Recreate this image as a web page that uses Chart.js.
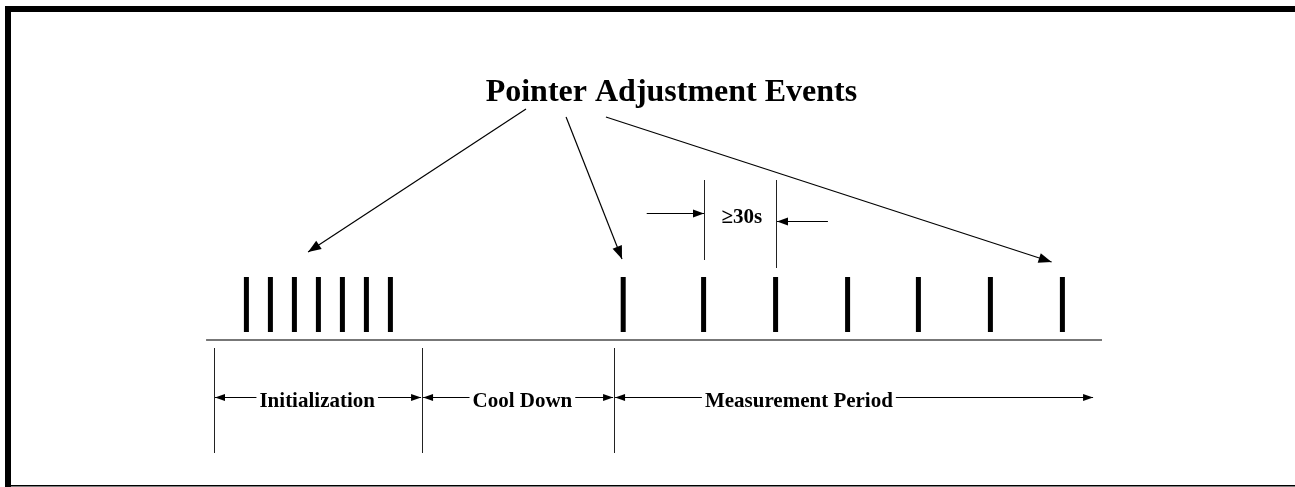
<!DOCTYPE html>
<html>
<head>
<meta charset="utf-8">
<script src="https://cdn.jsdelivr.net/npm/chart.js@4.4.0/dist/chart.umd.min.js"></script>
<style>
  html, body { margin: 0; padding: 0; background: #fff; }
  #wrap { width: 1295px; height: 487px; position: relative; }
</style>
</head>
<body>
<div id="wrap"><canvas id="myChart"></canvas></div>
<script>
// timeline values, seconds from start of initialization
const initEvents = [13.5, 23.5, 33.5, 43.5, 53.5, 63.5, 73.5];
const measureEvents = [170.5, 204, 234, 264, 293.5, 323.5, 353.5];
const phaseBounds = [0, 86.7, 166.7, 366.7];
const phaseLabels = ['Initialization', 'Cool Down', 'Measurement Period'];
const titleText = 'Pointer Adjustment Events';
const gapText = '≥30s';

// layout (chart units: x = seconds, y = height above the baseline)
const BAR_LO = 8, BAR_HI = 63;
const labelAt = [43, 128.5, 243.7];
const FONT = '"Liberation Serif", "Times New Roman", serif';

// each event is one short vertical segment, gaps split them
const segs = [];
initEvents.concat(measureEvents).forEach(function (t) {
    segs.push({x: t, y: BAR_LO}, {x: t, y: BAR_HI}, {x: t, y: null});
});

function line(ctx, x1, y1, x2, y2, w, col) {
    ctx.beginPath();
    ctx.lineWidth = w;
    ctx.strokeStyle = col;
    ctx.moveTo(x1, y1);
    ctx.lineTo(x2, y2);
    ctx.stroke();
}

function head(ctx, tx, ty, fx, fy, len, half) {
    var a = Math.atan2(ty - fy, tx - fx);
    var bx = tx - len * Math.cos(a), by = ty - len * Math.sin(a);
    ctx.beginPath();
    ctx.fillStyle = '#000';
    ctx.moveTo(tx, ty);
    ctx.lineTo(bx + half * Math.sin(a), by - half * Math.cos(a));
    ctx.lineTo(bx - half * Math.sin(a), by + half * Math.cos(a));
    ctx.closePath();
    ctx.fill();
}

function arrow(ctx, x1, y1, x2, y2, w, len, half) {
    line(ctx, x1, y1, x2, y2, w, '#000');
    head(ctx, x2, y2, x1, y1, len, half);
}

const diagram = {
    id: 'diagram',
    afterDraw: function (chart) {
        var ctx = chart.ctx;
        var X = function (v) { return chart.scales.x.getPixelForValue(v); };
        var Y = function (v) { return chart.scales.y.getPixelForValue(v); };
        ctx.save();

        // page frame
        ctx.fillStyle = '#000';
        ctx.fillRect(5, 6, 6, chart.height - 6);
        ctx.fillRect(5, 6, chart.width - 5, 6);
        ctx.fillRect(5, chart.height - 2, chart.width - 5, 1.5);

        // baseline
        line(ctx, X(-3.3), Y(0), X(370), Y(0), 2, '#777');

        // phase dividers
        for (var i = 0; i < 3; i++) {
            var px = Math.round(X(phaseBounds[i])) + 0.5;
            line(ctx, px, Y(-8), px, Y(-113), 1, '#222');
        }

        // phase dimension arrows with labels
        ctx.font = 'bold 21px ' + FONT;
        ctx.textAlign = 'center';
        ctx.textBaseline = 'alphabetic';
        var ay = Math.round(Y(-57)) + 0.5;
        phaseLabels.forEach(function (lab, k) {
            var a = X(phaseBounds[k]) + 1, b = X(phaseBounds[k + 1]);
            var c = X(labelAt[k]);
            var w = ctx.measureText(lab).width;
            ctx.fillStyle = '#000';
            ctx.fillText(lab, c, Y(-67));
            arrow(ctx, c - w / 2 - 3, ay, a, ay, 1, 10, 3.5);
            arrow(ctx, c + w / 2 + 3, ay, b - 1, ay, 1, 10, 3.5);
        });

        // title and pointer arrows
        ctx.font = 'bold 32px ' + FONT;
        ctx.fillStyle = '#000';
        ctx.fillText(titleText, X(190.6), Y(239));
        arrow(ctx, X(130), Y(231), X(39.2), Y(88), 1.2, 13, 5);
        arrow(ctx, X(146.7), Y(223), X(170), Y(81), 1.2, 13, 5);
        arrow(ctx, X(163.3), Y(223), X(349), Y(78), 1.2, 13, 5);

        // minimum spacing annotation
        var g1 = Math.round(X(measureEvents[1])) + 0.5;
        var g2 = Math.round(X(measureEvents[2])) + 0.5;
        line(ctx, g1, Y(160), g1, Y(80), 1, '#222');
        line(ctx, g2, Y(160), g2, Y(72), 1, '#222');
        arrow(ctx, X(180.3), Math.round(Y(127)) + 0.5, g1 - 0.5, Math.round(Y(127)) + 0.5, 1.2, 11, 4);
        arrow(ctx, X(255.8), Math.round(Y(119)) + 0.5, g2 + 0.5, Math.round(Y(119)) + 0.5, 1.2, 11, 4);
        ctx.font = 'bold 21px ' + FONT;
        ctx.textAlign = 'left';
        ctx.fillText(gapText, g1 + 17, Y(117));

        ctx.restore();
    }
};

const config = {
    type: 'scatter',
    data: {
        datasets: [{
            data: segs,
            showLine: true,
            spanGaps: false,
            borderColor: '#000',
            borderWidth: 5,
            borderCapStyle: 'butt',
            pointRadius: 0,
            pointHoverRadius: 0
        }]
    },
    options: {
        responsive: true,
        maintainAspectRatio: false,
        animation: false,
        layout: { padding: 0 },
        plugins: {
            legend: { display: false },
            tooltip: { enabled: false }
        },
        scales: {
            x: { type: 'linear', min: -89.1667, max: 450.4167, display: false },
            y: { type: 'linear', min: -147, max: 340, display: false }
        }
    },
    plugins: [diagram]
};

var myChart = new Chart(document.getElementById('myChart'), config);
</script>
</body>
</html>
